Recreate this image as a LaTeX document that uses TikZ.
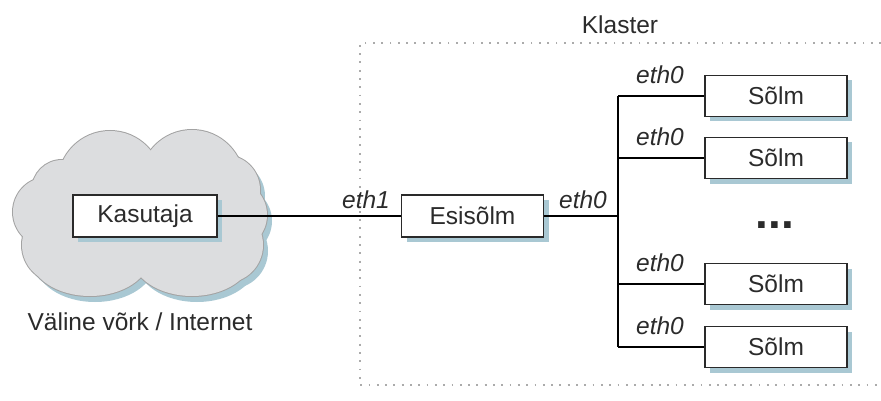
\documentclass[tikz,border=0pt]{standalone}
\usepackage{fontspec}
\setmainfont{Liberation Sans}
\usetikzlibrary{shadows}
\definecolor{txt}{HTML}{2B2B2B}
\definecolor{boxedge}{HTML}{2A2A2A}
\definecolor{shadowblue}{HTML}{A9C8D3}
\definecolor{cloudfill}{HTML}{DCDDDF}
\definecolor{cloudedge}{HTML}{A3A3A3}
\definecolor{framegray}{HTML}{ABABAB}
\begin{document}
\begin{tikzpicture}[x=1pt,y=-1pt,
  boxnode/.style={draw=boxedge, line width=1.6pt, fill=white,
    minimum width=142pt, minimum height=41pt, inner sep=0pt,
    font=\fontsize{24.5}{29}\selectfont, text=txt,
    drop shadow={shadow xshift=5pt, shadow yshift=-5pt, fill=shadowblue, opacity=1}},
  lbl/.style={font=\fontsize{24.5}{29}\selectfont\itshape, text=txt, inner sep=0pt},
  plain/.style={font=\fontsize{24.5}{29}\selectfont, text=txt, inner sep=0pt},
  wire/.style={line width=1.7pt, black}]
\useasboundingbox (0,0) rectangle (881,401);
% cluster frame
\draw[framegray, line width=1.5pt, dash pattern=on 1.8pt off 6.5pt]
  (881,43) -- (360,43) -- (360,385) -- (881,385);
\node[plain] (klaster) at (620,25) {Klaster};
% cloud
\def\cloudparts{110/183/52/52, 192/182/52/52, 62/190/30/30, 48/212/35/35,
  60/245/38/38, 90/256/60/40, 192/256/60/40, 232/215/35/35, 225/190/35/35,
  225/245/38/38, 140/215/60/60}
\begin{scope}[shift={(5,6)}]
  \foreach \cx/\cy/\rx/\ry in \cloudparts
    \fill[shadowblue] (\cx,\cy) ellipse[x radius=\rx, y radius=\ry];
\end{scope}
\foreach \cx/\cy/\rx/\ry in \cloudparts
  \draw[cloudedge, line width=2pt] (\cx,\cy) ellipse[x radius=\rx, y radius=\ry];
\foreach \cx/\cy/\rx/\ry in \cloudparts
  \fill[cloudfill] (\cx,\cy) ellipse[x radius=\rx, y radius=\ry];
\node[plain] (inet) at (140,322) {Väline võrk / Internet};
% nodes
\node[boxnode, minimum width=144pt, minimum height=42pt] (kasutaja) at (145,216) {Kasutaja};
\node[boxnode, minimum height=42pt] (esi) at (472.5,216) {Esisõlm};
\node[boxnode] (s1) at (776,96) {Sõlm};
\node[boxnode] (s2) at (776,158) {Sõlm};
\node[boxnode] (s3) at (776,284) {Sõlm};
\node[boxnode] (s4) at (776,347) {Sõlm};
\node[font=\fontsize{46}{46}\selectfont\bfseries, text=txt, inner sep=0pt, anchor=base] (dots) at (775,228) {...};
% bus
\coordinate (bt) at (618,96);
\coordinate (bb) at (618,347);
\coordinate (bm) at (618,216);
\coordinate (b2) at (618,158);
\coordinate (b3) at (618,284);
\draw[wire] (kasutaja.east) -- (esi.west);
\draw[wire] (esi.east) -- (bm);
\draw[wire] (bt) -- (bb);
\draw[wire] (bt) -- (s1.west);
\draw[wire] (b2) -- (s2.west);
\draw[wire] (b3) -- (s3.west);
\draw[wire] (bb) -- (s4.west);
% labels
\node[lbl] (l1) at (366,200) {eth1};
\node[lbl] (l0) at (583,200) {eth0};
\node[lbl] (la) at (660,75) {eth0};
\node[lbl] (lb) at (660,137) {eth0};
\node[lbl] (lc) at (660,263) {eth0};
\node[lbl] (ld) at (660,326) {eth0};
\end{tikzpicture}
\end{document}
